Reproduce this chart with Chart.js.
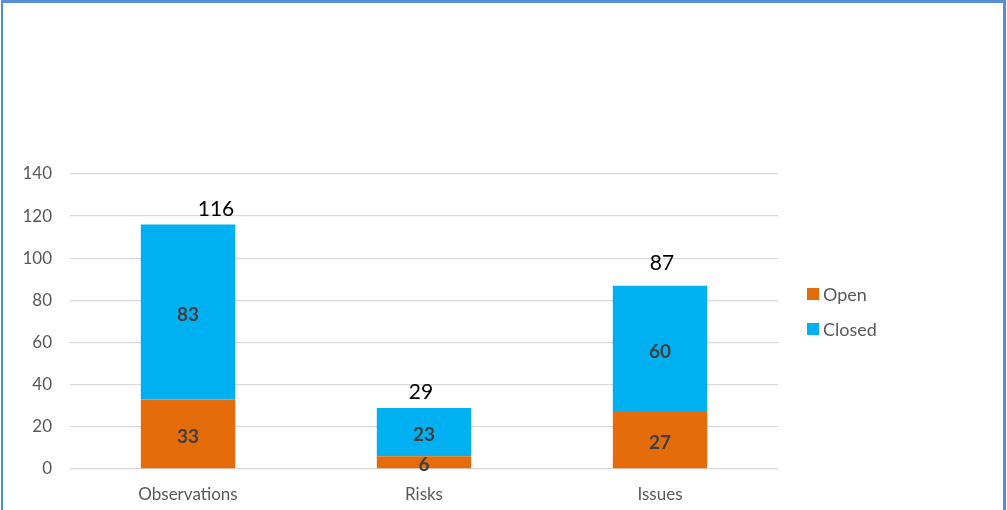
<!DOCTYPE html>
<html>
<head>
<meta charset="utf-8">
<script src="https://cdn.jsdelivr.net/npm/chart.js@4.4.1/dist/chart.umd.min.js"></script>
<style>
  html, body { margin: 0; padding: 0; background: #fff; }
  body { width: 1007px; height: 510px; overflow: hidden; position: relative; font-family: Lato, 'Open Sans', sans-serif; }
  .frame {
    position: absolute; left: 1px; top: 0; width: 1000px; height: 507px;
    border-top: 3px solid #558ed5; border-left: 2px solid #558ed5; border-right: 3px solid #558ed5;
  }
  .chart-box { position: absolute; left: 0; top: 0; width: 1000px; height: 507px; }
  .legend { position: absolute; left: 804px; top: 281px; font-size: 18px; color: #595959; }
  .legend div { display: flex; align-items: center; height: 20px; margin-bottom: 15px; }
  .legend span.sw { width: 12px; height: 12px; margin-right: 4px; display: inline-block; }
</style>
</head>
<body>
<div class="frame">
  <div class="chart-box"><canvas id="chart"></canvas></div>
  <div class="legend" id="legend"></div>
</div>
<script>
const categories = ['Observations', 'Risks', 'Issues'];
const openValues = [33, 6, 27];
const closedValues = [83, 23, 60];
const totalValues = [116, 29, 87];
const yTicks = [0, 20, 40, 60, 80, 100, 120, 140];

const COLORS = { open: '#e46c0a', closed: '#00b0f0' };
// small nudges [dx, dy] for the total labels, like the original
const TOTAL_SHIFT = [[28, -15], [-3, -16], [2, -22]];

document.getElementById('legend').innerHTML = [
  ['Open', COLORS.open],
  ['Closed', COLORS.closed],
].map(([label, color]) => `<div><span class="sw" style="background:${color}"></span>${label}</div>`).join('');

const labelPlugin = {
  id: 'barLabels',
  afterDatasetsDraw(chart) {
    const ctx = chart.ctx;
    ctx.save();
    ctx.textAlign = 'center';
    ctx.textBaseline = 'middle';
    ctx.font = 'bold 19px Lato, "Open Sans", sans-serif';
    ctx.fillStyle = '#404040';
    chart.data.datasets.forEach((ds, di) => {
      chart.getDatasetMeta(di).data.forEach((bar, i) => {
        const mid = (bar.y + bar.base) / 2;
        ctx.fillText(String(ds.data[i]), bar.x, mid + 3);
      });
    });
    ctx.font = '21px Lato, "Open Sans", sans-serif';
    ctx.fillStyle = '#000';
    const top = chart.getDatasetMeta(1).data;
    totalValues.forEach((v, i) => {
      const y = chart.scales.y.getPixelForValue(v);
      ctx.fillText(String(v), top[i].x + TOTAL_SHIFT[i][0], y + TOTAL_SHIFT[i][1]);
    });
    ctx.restore();
  },
};

new Chart(document.getElementById('chart'), {
  type: 'bar',
  data: {
    labels: categories,
    datasets: [
      { label: 'Open', data: openValues, backgroundColor: COLORS.open },
      { label: 'Closed', data: closedValues, backgroundColor: COLORS.closed },
    ],
  },
  options: {
    responsive: true,
    maintainAspectRatio: false,
    animation: false,
    layout: { padding: { top: 171, right: 225, left: 0, bottom: 0 } },
    datasets: { bar: { categoryPercentage: 1, barPercentage: 0.4 } },
    plugins: { legend: { display: false }, tooltip: { enabled: false } },
    scales: {
      x: {
        stacked: true,
        grid: { display: false, drawTicks: false },
        border: { display: false },
        ticks: { color: '#595959', font: { family: 'Lato', size: 17 }, padding: 15 },
        afterFit(scale) { scale.height = 41; },
      },
      y: {
        stacked: true,
        min: 0,
        max: 140,
        afterBuildTicks(scale) { scale.ticks = yTicks.map(value => ({ value })); },
        grid: { color: '#d9d9d9', lineWidth: 1.3, drawTicks: false },
        border: { display: false },
        ticks: { color: '#595959', font: { family: 'Lato', size: 17 }, padding: 18 },
        afterFit(scale) { scale.width = 67; },
      },
    },
  },
  plugins: [labelPlugin],
});
</script>
</body>
</html>
